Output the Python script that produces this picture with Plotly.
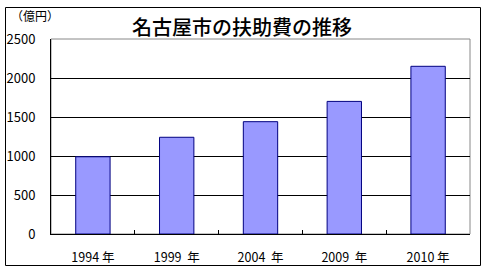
import plotly.graph_objects as go

years = ["1994 年", "1999\u00a0\u00a0年", "2004\u00a0\u00a0年", "2009\u00a0\u00a0年", "2010 年"]
values = [990, 1240, 1440, 1700, 2150]
y_ticks = [0, 500, 1000, 1500, 2000, 2500]

L, R, T, B = 51, 15, 39, 37
W, H = 485, 271
pw, ph = W - L - R, H - T - B

def px(x):
    return (x - L) / pw

def py(y):
    return (H - B - y) / ph

font = "Noto Sans CJK JP, DejaVu Sans, sans-serif"

fig = go.Figure(go.Bar(
    x=years, y=values, width=0.41,
    marker=dict(color="#9999FF", line=dict(color="#000080", width=1)),
))

fig.update_layout(
    width=W, height=H, margin=dict(l=L, r=R, t=T, b=B, autoexpand=False),
    paper_bgcolor="white", plot_bgcolor="white",
    showlegend=False, bargap=0.59,
    font=dict(family=font, color="black", size=12),
    title=dict(text="名古屋市の扶助費の推移", x=242 / W, xref="container", xanchor="center",
               y=1 - 28 / H, yref="container", yanchor="middle",
               font=dict(size=20, family=font, weight=500)),
    xaxis=dict(showline=True, linecolor="black", linewidth=1, ticks="inside",
               tickson="boundaries", ticklen=4, tickcolor="black", automargin=False,
               tickfont=dict(size=12.5), ticklabelstandoff=12, showgrid=False),
    yaxis=dict(range=[0, 2500], tickvals=y_ticks, showline=True, linecolor="black",
               linewidth=1, showgrid=True, gridcolor="black", gridwidth=1,
               ticks="", tickfont=dict(size=13), ticklabelstandoff=12,
               zeroline=False, automargin=False),
    shapes=[
        dict(type="rect", xref="paper", yref="paper", x0=0, x1=1, y0=0, y1=1,
             line=dict(color="#888888", width=1), layer="below"),
        dict(type="rect", xref="paper", yref="paper", x0=px(5.5), x1=px(480.5),
             y0=py(265.5), y1=py(7.5), line=dict(color="black", width=1)),
    ],
    annotations=[
        dict(text="（億円）", xref="paper", yref="paper", x=px(9), y=py(16),
             xanchor="left", yanchor="middle", showarrow=False,
             font=dict(size=12, family=font)),
    ],
)

fig.write_html("out.html")
